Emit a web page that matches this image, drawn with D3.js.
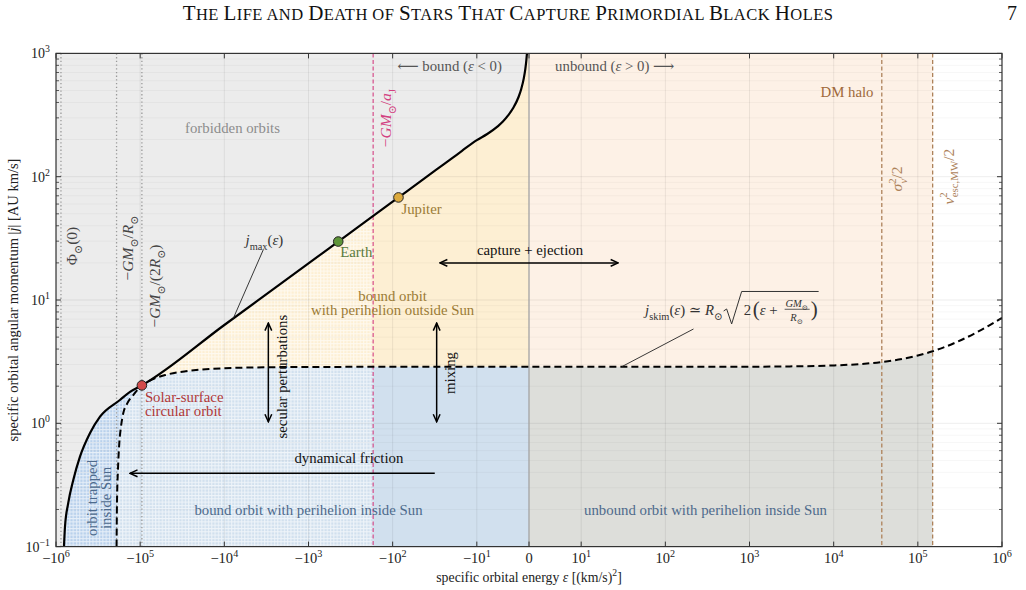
<!DOCTYPE html>
<html>
<head>
<meta charset="utf-8">
<script src="https://cdn.jsdelivr.net/npm/d3@7"></script>
<style>
  body { margin: 0; background: #fff; }
  svg text { font-family: "Liberation Serif", "DejaVu Serif", serif; }
</style>
</head>
<body>
<svg id="chart" width="1026" height="590"></svg>
<script>
// ---- values ----
const epsTicks = [-1e6, -1e5, -1e4, -1e3, -1e2, -1e1, 0, 1e1, 1e2, 1e3, 1e4, 1e5, 1e6];
const jTicks = [0.1, 1, 10, 100, 1000];

// j_max(eps): inside-Sun branch, then point-mass branch up to eps -> 0
const jmaxEps = [-804000, -782000, -715000, -623000, -519000, -394000, -300000, -174000, -132000, -95400,
  -10000, -1000, -443, -100, -85.3, -30, -20, -15, -10, -8, -6, -5, -4, -3, -2, -1.5, -1, -0.7, -0.5, -0.4, -0.39];
const jmaxJ = [0.1, 0.145, 0.226, 0.347, 0.536, 0.834, 1.131, 1.545, 1.8, 2.03,
  6.27, 19.8, 29.8, 62.7, 67.9, 114.5, 140, 162, 198, 222, 256, 280, 314, 362, 443, 512, 627, 750, 887, 992, 1004];

// j_skim(eps)
const jskimEps = [-190700, -188600, -183600, -177000, -169000, -158900, -142300, -120800, -95400, -70000, -50000,
  -30000, -20000, -10000, -3000, -1000, -100, 0, 100, 1000, 3000, 10000, 20000, 37300, 50000, 100000, 150000,
  200000, 300000, 500000, 700000, 1000000];
const jskimJ = [0.1, 0.226, 0.419, 0.689, 0.938, 1.205, 1.452, 1.696, 2.03, 2.285, 2.467,
  2.636, 2.717, 2.795, 2.849, 2.864, 2.871, 2.872, 2.873, 2.879, 2.894, 2.946, 3.018, 3.14, 3.226, 3.546, 3.84,
  4.11, 4.607, 5.465, 6.206, 7.176];

// reference energies
const refNames = ["phi0", "GMR", "GM2R", "GMaJ", "zero", "sigma", "vesc"];
const refEps = [-873000, -190700, -95400, -170.6, 0, 37300, 150000];

// marked orbits
const pointNames = ["sun", "earth", "jupiter"];
const pointEps = [-95400, -443, -85.3];
const pointJ = [2.03, 29.8, 67.9];

const chart = (() => {
  const svg = d3.select("#chart");
  const pL = 56, pR = 1002, pT = 53.4, pB = 546.6;
  const fs = 14.8;
  const C = {
    forbidden: "#ececec", boundOut: "#fdefd3", boundIn: "#d1e0ee", trapped: "#b9d1ec",
    unboundOut: "#fdf1e6", unboundIn: "#dddeda",
    txtGold: "#9b7b35", txtBlue: "#4d6a8c", txtRed: "#b03838", txtGreen: "#5a7a3c",
    brown: "#ad825a", magenta: "#d33f80"
  };

  const linthresh = 10, linL = 0.62;
  const symT = e => Math.abs(e) <= linthresh ? e / linthresh * linL
    : Math.sign(e) * (linL + Math.log10(Math.abs(e) / linthresh));
  const xT = d3.scaleLinear().domain([symT(-1e6), symT(1e6)]).range([pL, pR]);
  const x = e => xT(symT(e));
  const y = d3.scaleLog().domain([0.1, 1000]).range([pB, pT]);
  const ref = name => refEps[refNames.indexOf(name)];

  const zip = (E, J) => E.map((e, i) => [e, J[i]]);
  const jmaxPts = zip(jmaxEps, jmaxJ);
  const jskimPts = zip(jskimEps, jskimJ);

  const line = d3.line().x(d => x(d[0])).y(d => y(d[1])).curve(d3.curveMonotoneX);
  const area = d3.area().x(d => x(d[0])).y0(y(0.1)).y1(d => y(d[1])).curve(d3.curveMonotoneX);

  const defs = svg.append("defs");
  defs.append("clipPath").attr("id", "plotClip").append("rect")
    .attr("x", pL).attr("y", pT).attr("width", pR - pL).attr("height", pB - pT);
  defs.append("clipPath").attr("id", "leftClip").append("rect")
    .attr("x", pL).attr("y", pT).attr("width", x(ref("GMaJ")) - pL).attr("height", pB - pT);
  const pat = defs.append("pattern").attr("id", "hatch").attr("patternUnits", "userSpaceOnUse")
    .attr("width", 3.3).attr("height", 3.3);
  pat.append("path").attr("d", "M0,0.6H3.3M0.6,0V3.3").attr("stroke", "#fff")
    .attr("stroke-width", 1).attr("stroke-opacity", 0.65);
  defs.append("marker").attr("id", "ah").attr("viewBox", "0 0 10 10").attr("refX", 9).attr("refY", 5)
    .attr("markerWidth", 10).attr("markerHeight", 10).attr("markerUnits", "userSpaceOnUse")
    .attr("orient", "auto-start-reverse")
    .append("path").attr("d", "M1.5,1.6L9,5L1.5,8.4").attr("fill", "none").attr("stroke", "#000").attr("stroke-width", 1.5);

  // ---- regions ----
  const gPlot = svg.append("g").attr("clip-path", "url(#plotClip)");
  gPlot.append("rect").attr("x", x(-1e6)).attr("y", pT).attr("width", x(0) - x(-1e6)).attr("height", pB - pT)
    .attr("fill", C.forbidden);

  const trappedPts = jmaxPts.filter(d => d[0] <= ref("GM2R"));
  const boundPts = jmaxPts.filter(d => d[0] >= ref("GM2R")).concat([[0, 1004]]);
  const boundInPts = jskimPts.filter(d => d[0] <= 0);
  const unboundInPts = jskimPts.filter(d => d[0] >= 0 && d[0] <= ref("vesc"));

  gPlot.append("path").attr("d", area(trappedPts)).attr("fill", C.trapped);
  gPlot.append("path").attr("d", area(boundPts)).attr("fill", C.boundOut);
  gPlot.append("path").attr("d", area(boundInPts)).attr("fill", C.boundIn);
  gPlot.append("rect").attr("x", x(0)).attr("y", pT).attr("width", x(ref("vesc")) - x(0)).attr("height", pB - pT)
    .attr("fill", C.unboundOut);
  gPlot.append("path").attr("d", area(unboundInPts)).attr("fill", C.unboundIn);

  const gHatch = gPlot.append("g").attr("clip-path", "url(#leftClip)");
  gHatch.append("path").attr("d", area(trappedPts)).attr("fill", "url(#hatch)");
  gHatch.append("path").attr("d", area(boundPts)).attr("fill", "url(#hatch)");

  // ---- grid ----
  const minorJ = [];
  for (let d = -1; d < 3; d++) for (let k = 2; k < 10; k++) minorJ.push(k * 10 ** d);
  gPlot.selectAll(".gm").data(minorJ).join("line")
    .attr("x1", pL).attr("x2", pR).attr("y1", d => y(d)).attr("y2", d => y(d))
    .attr("stroke", "#000").attr("stroke-opacity", 0.035);
  gPlot.selectAll(".gj").data(jTicks).join("line")
    .attr("x1", pL).attr("x2", pR).attr("y1", d => y(d)).attr("y2", d => y(d))
    .attr("stroke", "#000").attr("stroke-opacity", 0.07);
  gPlot.selectAll(".ge").data(epsTicks).join("line")
    .attr("x1", d => x(d)).attr("x2", d => x(d)).attr("y1", pT).attr("y2", pB)
    .attr("stroke", "#000").attr("stroke-opacity", 0.07);

  // ---- reference verticals ----
  const vline = (e, stroke, dash, w) => gPlot.append("line")
    .attr("x1", x(e)).attr("x2", x(e)).attr("y1", pT).attr("y2", pB)
    .attr("stroke", stroke).attr("stroke-width", w).attr("stroke-dasharray", dash);
  ["phi0", "GMR", "GM2R"].forEach(n => vline(ref(n), "#9a9a9a", "1.3,2.4", 1.3));
  vline(ref("GMaJ"), C.magenta, "4,2.5", 1.1);
  vline(ref("zero"), "#a8a8a8", null, 1.3);
  vline(ref("sigma"), C.brown, "4,2.5", 1.3);
  vline(ref("vesc"), C.brown, "4,2.5", 1.3);

  // ---- curves ----
  gPlot.append("path").attr("d", line(jskimPts)).attr("fill", "none").attr("stroke", "#000")
    .attr("stroke-width", 2).attr("stroke-dasharray", "7,4");
  gPlot.append("path").attr("d", line(jmaxPts)).attr("fill", "none").attr("stroke", "#000")
    .attr("stroke-width", 2.2);

  // ---- text helpers ----
  const gText = svg.append("g");
  function rich(sel, parts, base) {
    let shift = -0.35;
    for (const [t, f = "", dx = 0] of parts) {
      const target = f.includes("b") ? 0.3 : f.includes("p") ? -0.42 : 0;
      const ts = sel.append("tspan").text(t).attr("dy", ((target - shift) * base).toFixed(2) + "px");
      if (dx) ts.attr("dx", dx);
      if (f.includes("i")) ts.attr("font-style", "italic");
      if (target !== 0) ts.attr("font-size", base * 0.7);
      shift = target;
    }
  }
  function label(px, py, parts, o = {}) {
    const size = o.size || fs;
    const t = gText.append("text").attr("font-size", size).attr("fill", o.color || "#222")
      .attr("text-anchor", o.anchor || "middle");
    if (o.rot) t.attr("transform", `translate(${px},${py}) rotate(${o.rot})`);
    else t.attr("x", px).attr("y", py);
    rich(t, parts, size);
    return t;
  }
  const at = (e, j, parts, o) => label(x(e), y(j), parts, o);

  // region labels
  at(-8000, 250, [["forbidden orbits"]], { color: "#8c8c8c" });
  at(-100, 10.8, [["bound orbit"]], { color: C.txtGold });
  at(-100, 8.3, [["with perihelion outside Sun"]], { color: C.txtGold });
  at(-1000, 0.2, [["bound orbit with perihelion inside Sun"]], { color: C.txtBlue });
  at(300, 0.2, [["unbound orbit with perihelion inside Sun"]], { color: C.txtBlue });
  at(-3.77e5, 0.248, [["orbit trapped"]], { color: C.txtBlue, rot: -90 });
  at(-2.57e5, 0.248, [["inside Sun"]], { color: C.txtBlue, rot: -90 });
  at(14400, 489, [["DM halo"]], { color: "#a0693a" });
  at(-5.2, 790, [["⟵ bound ("], ["ε", "i"], [" < 0)"]], { color: "#555", anchor: "end" });
  at(5.0, 790, [["unbound ("], ["ε", "i"], [" > 0) ⟶"]], { color: "#555", anchor: "start" });

  // reference line labels
  const rs = 15.5;
  at(-6.52e5, 27.4, [["Φ"], ["⊙", "b"], ["(0)"]], { color: "#444", rot: -90, size: rs });
  at(-1.40e5, 26.4, [["−"], ["GM", "i"], ["⊙", "b"], ["/"], ["R", "i"], ["⊙", "b"]], { color: "#444", rot: -90, size: rs });
  at(-6.67e4, 13, [["−"], ["GM", "i"], ["⊙", "b"], ["/(2"], ["R", "i"], ["⊙", "b"], [")"]], { color: "#444", rot: -90, size: rs });
  at(-120.5, 299, [["−"], ["GM", "i"], ["⊙", "b"], ["/"], ["a", "i"], ["J", "b"]], { color: C.magenta, rot: -90, size: rs });
  at(56100, 95.8, [["σ", "i"], ["2", "p"], ["v", "bi", -5], ["/2"]], { color: C.brown, rot: -90, size: rs });
  at(2.29e5, 100, [["v", "i"], ["2", "p"], ["esc,MW", "b", -5], ["/2"]], { color: C.brown, rot: -90, size: rs });

  // marked orbits
  const pColors = ["#d24a4a", "#5e9438", "#dcaa3e"];
  svg.selectAll(".pt").data(pointEps).join("circle")
    .attr("cx", d => x(d)).attr("cy", (d, i) => y(pointJ[i])).attr("r", 4.8)
    .attr("fill", (d, i) => pColors[i]).attr("stroke", "#222").attr("stroke-width", 1);
  const pSun = pointNames.indexOf("sun"), pEarth = pointNames.indexOf("earth"), pJup = pointNames.indexOf("jupiter");
  label(x(pointEps[pSun]) + 3, y(pointJ[pSun]) + 11, [["Solar-surface"]], { color: C.txtRed, anchor: "start" });
  label(x(pointEps[pSun]) + 3, y(pointJ[pSun]) + 25, [["circular orbit"]], { color: C.txtRed, anchor: "start" });
  label(x(pointEps[pEarth]) + 2, y(pointJ[pEarth]) + 10, [["Earth"]], { color: C.txtGreen, anchor: "start" });
  label(x(pointEps[pJup]) + 3, y(pointJ[pJup]) + 11, [["Jupiter"]], { color: C.txtGold, anchor: "start" });

  // ---- arrows ----
  const arrows = [
    { e0: -31.6, j0: 0.393, e1: -1.32e5, j1: 0.393, both: false },
    { e0: -27.5, j0: 20, e1: 27.5, j1: 20, both: true },
    { e0: -30, j0: 1.03, e1: -30, j1: 6.5, both: true },
    { e0: -3000, j0: 1.03, e1: -3000, j1: 6.5, both: true }
  ];
  svg.selectAll(".arr").data(arrows).join("line")
    .attr("x1", d => x(d.e0)).attr("y1", d => y(d.j0)).attr("x2", d => x(d.e1)).attr("y2", d => y(d.j1))
    .attr("stroke", "#000").attr("stroke-width", 1.5)
    .attr("marker-end", "url(#ah)").attr("marker-start", d => d.both ? "url(#ah)" : null);
  at(0.2, 25.5, [["capture + ejection"]], { color: "#111" });
  at(-331, 0.523, [["dynamical friction"]], { color: "#111" });
  at(-20.9, 2.56, [["mixing"]], { color: "#111", rot: -90 });
  at(-2090, 2.39, [["secular perturbations"]], { color: "#111", rot: -90 });

  // j_max label and leader
  svg.append("line").attr("x1", x(-3450)).attr("y1", y(25.5)).attr("x2", x(-7830)).attr("y2", y(7.09))
    .attr("stroke", "#222").attr("stroke-width", 0.9);
  at(-5600, 30.5, [["j", "i"], ["max", "b"], ["("], ["ε", "i"], [")"]], { color: "#333", anchor: "start" });

  // j_skim label and leader
  svg.append("line").attr("x1", x(216)).attr("y1", y(5.82)).attr("x2", x(30.4)).attr("y2", y(2.88))
    .attr("stroke", "#222").attr("stroke-width", 0.9);
  {
    const x0 = x(57.5), y0 = y(7.56);
    const head = label(x0, y0 - 5, [["j", "i"], ["skim", "b"], ["("], ["ε", "i"], [") ≃ "], ["R", "i"], ["⊙", "b"]],
      { color: "#333", anchor: "start" });
    const bb = head.node().getBBox();
    const xr = bb.x + bb.width + 1;
    svg.append("path")
      .attr("d", `M${xr},${y0 - 4}l3,-2l5,15l10,-32.5H${xr + 95}`)
      .attr("fill", "none").attr("stroke", "#333").attr("stroke-width", 1);
    label(xr + 20, y0 - 5, [["2"]], { color: "#333", anchor: "start" });
    label(xr + 29, y0 - 6, [["("]], { color: "#333", anchor: "start", size: 21 });
    label(xr + 36, y0 - 5, [["ε", "i"], [" +"]], { color: "#333", anchor: "start" });
    label(xr + 73, y0 - 11.5, [["GM", "i"], ["⊙", "b"]], { color: "#333", size: 10.5 });
    svg.append("line").attr("x1", xr + 61).attr("x2", xr + 86).attr("y1", y0 - 5.7).attr("y2", y0 - 5.7)
      .attr("stroke", "#333").attr("stroke-width", 0.8);
    label(xr + 73, y0 + 2, [["R", "i"], ["⊙", "b"]], { color: "#333", size: 10.5 });
    label(xr + 87, y0 - 6, [[")"]], { color: "#333", anchor: "start", size: 21 });
  }

  // ---- axes ----
  const gAx = svg.append("g");
  gAx.append("rect").attr("x", pL).attr("y", pT).attr("width", pR - pL).attr("height", pB - pT)
    .attr("fill", "none").attr("stroke", "#333").attr("stroke-width", 1.2);
  gAx.selectAll(".xt").data(epsTicks).join("path")
    .attr("d", d => `M${x(d)},${pB}v-5M${x(d)},${pT}v5`).attr("stroke", "#333").attr("stroke-width", 1);
  gAx.selectAll(".yt").data(jTicks).join("path")
    .attr("d", d => `M${pL},${y(d)}h5M${pR},${y(d)}h-5`).attr("stroke", "#333").attr("stroke-width", 1);
  gAx.selectAll(".ym").data(minorJ).join("path")
    .attr("d", d => `M${pL},${y(d)}h3M${pR},${y(d)}h-3`).attr("stroke", "#333").attr("stroke-width", 0.8);

  epsTicks.forEach(e => {
    const parts = e === 0 ? [["0"]] : [[(e < 0 ? "−" : "") + "10"], [String(Math.round(Math.log10(Math.abs(e)))), "p"]];
    label(x(e), pB + 11, parts, { size: 14.5, color: "#222" });
  });
  jTicks.forEach(j => {
    const ex = Math.round(Math.log10(j));
    label(pL - 6, y(j), [["10"], [(ex < 0 ? "−" : "") + Math.abs(ex), "p"]], { size: 14, color: "#222", anchor: "end" });
  });

  label((pL + pR) / 2, 577, [["specific orbital energy "], ["ε", "i"], [" [(km/s)"], ["2", "p"], ["]"]],
    { size: 13.8, color: "#222" });
  label(13, (pT + pB) / 2, [["specific orbital angular momentum |"], ["j", "i"], ["| [AU km/s]"]],
    { size: 14.5, color: "#222", rot: -90 });

  // ---- page header (small capitals) ----
  const title = svg.append("text").attr("x", 508).attr("y", 20).attr("text-anchor", "middle").attr("fill", "#111")
    .attr("letter-spacing", 0.45);
  "The Life and Death of Stars That Capture Primordial Black Holes".split(" ").forEach((w, i) => {
    if (i > 0) title.append("tspan").attr("font-size", 16.5).text(" ");
    const cap = w[0] === w[0].toUpperCase();
    if (cap) title.append("tspan").attr("font-size", 21).text(w[0]);
    title.append("tspan").attr("font-size", 16.5).text((cap ? w.slice(1) : w).toUpperCase());
  });
  svg.append("text").attr("x", 1017).attr("y", 20).attr("text-anchor", "end").attr("font-size", 20)
    .attr("fill", "#111").text("7");
  return svg.node();
})();
</script>
</body>
</html>
